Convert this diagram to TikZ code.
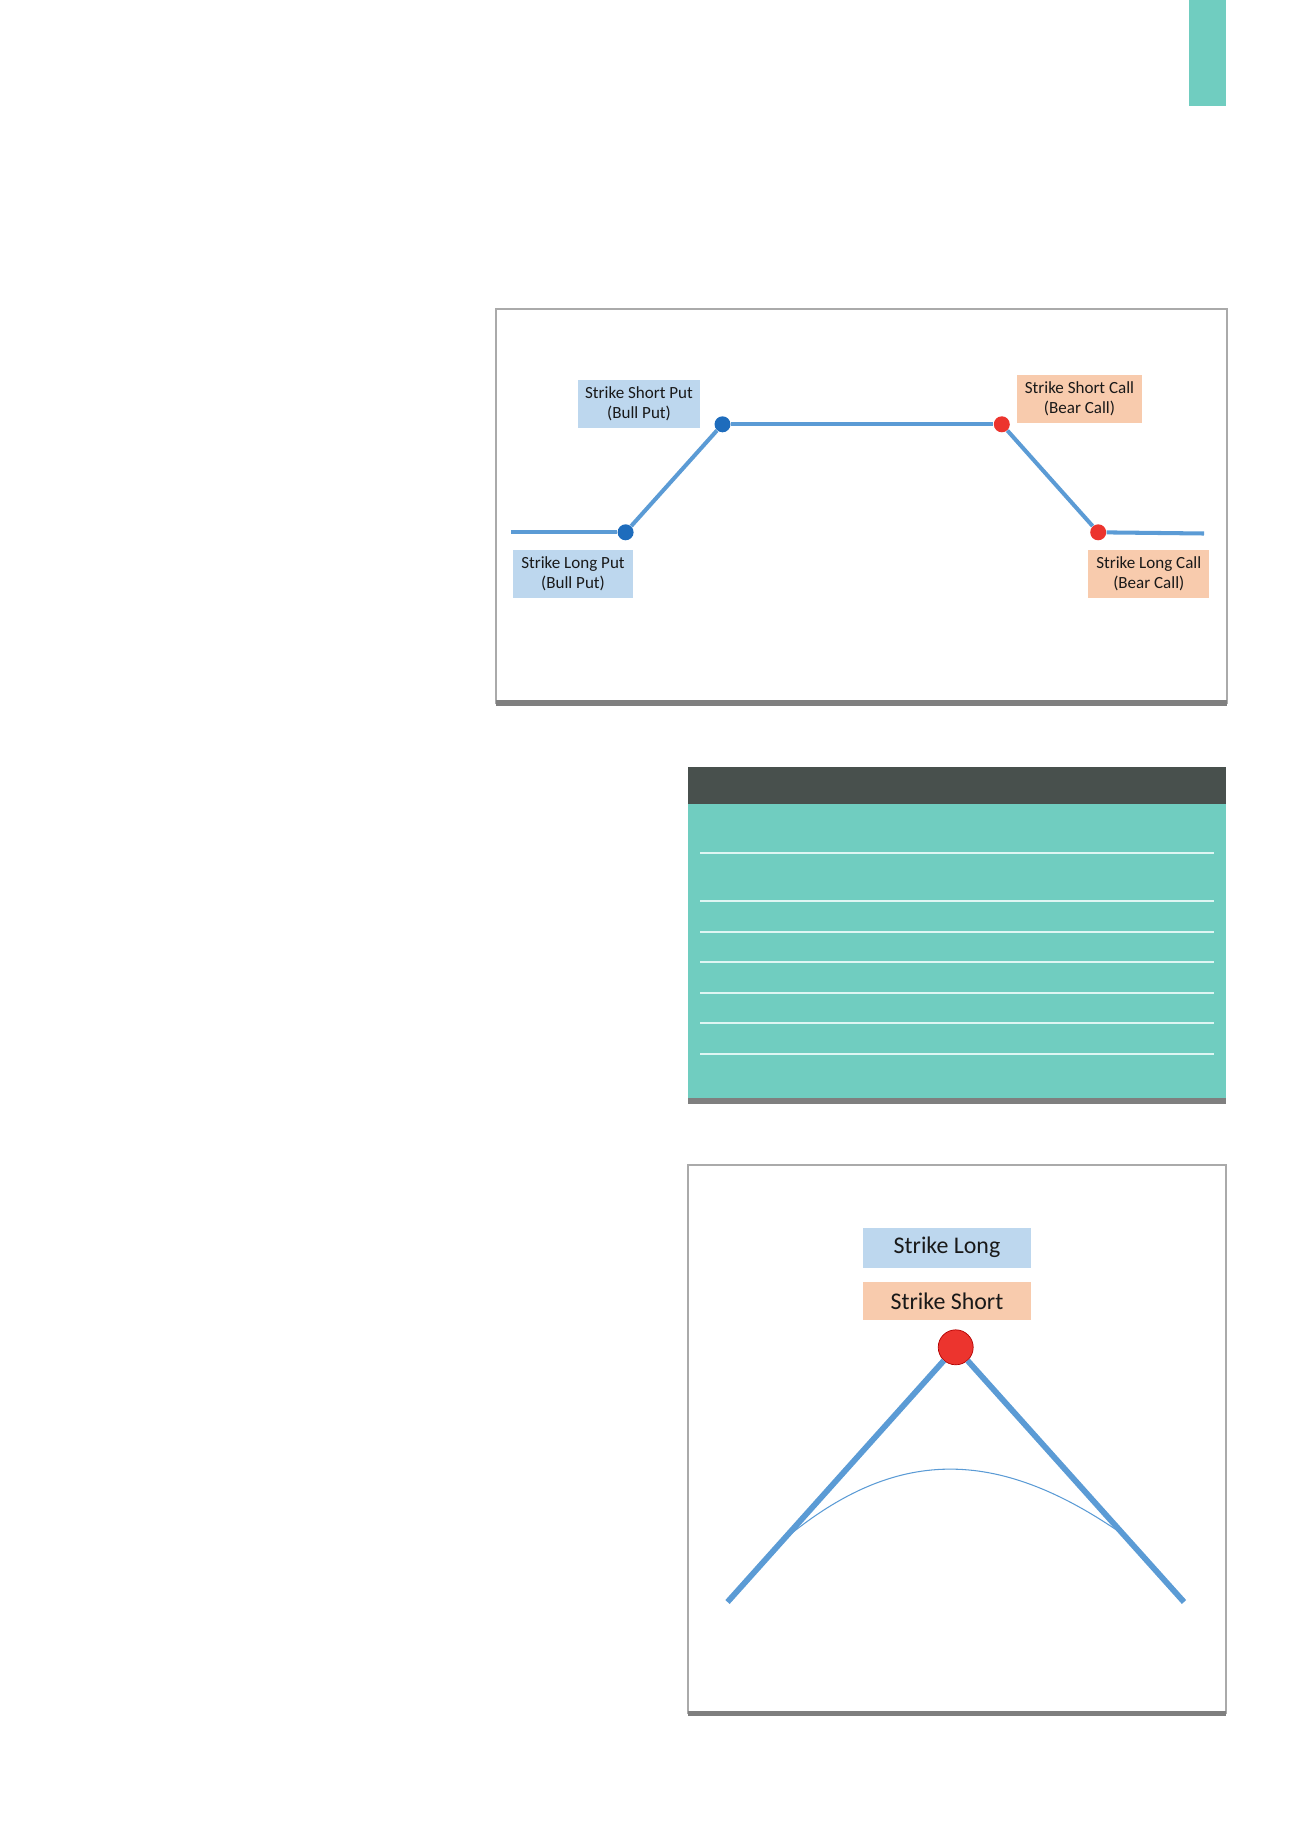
\documentclass[tikz,border=0pt]{standalone}
\usepackage{fontspec}
\setmainfont{Carlito}
\usetikzlibrary{positioning}

\definecolor{payblue}{RGB}{91,155,213}
\definecolor{putdotc}{RGB}{30,108,188}
\definecolor{calldotc}{RGB}{236,52,46}
\definecolor{putfill}{RGB}{189,215,238}
\definecolor{callfill}{RGB}{248,203,173}
\definecolor{tealc}{RGB}{112,205,192}
\definecolor{headc}{RGB}{72,80,77}
\definecolor{barc}{RGB}{127,127,127}
\definecolor{framec}{RGB}{170,170,170}
\definecolor{rulec}{RGB}{222,246,243}

\begin{document}
\begin{tikzpicture}[
	x=0.02cm, y=-0.02cm,
	payoff/.style  = {line width=2.3pt, payblue},
	putbox/.style  = {rectangle, fill=putfill, inner sep=0pt, minimum height=0.96cm, align=center, text=black!90,
		font=\fontsize{9.7}{11.4}\selectfont},
	callbox/.style = {putbox, fill=callfill},
	bigtxt/.style  = {font=\fontsize{13.6}{16}\selectfont, minimum width=3.36cm},
	putdot/.style  = {circle, fill=putdotc, inner sep=0pt, minimum size=0.32cm},
	calldot/.style = {putdot, fill=calldotc},
	frame/.style   = {draw=framec, line width=0.6pt},
	bar/.style     = {fill=barc}
	]
	
	\useasboundingbox (0,0) rectangle (1300,1839);
	
	% page tab
	\fill[tealc] (1189,0) rectangle (1226,106);
	
	%% ── Spread payoff panel ──────────────────────────────────────
	\draw[frame] (496,309) rectangle (1227,703);
	\fill[bar] (496,700) rectangle (1227,706);
	
	\node [putdot]  (lp) at (625.6,532.3) {};
	\node [putdot]  (sp) at (722.5,424.3) {};
	\node [calldot] (sc) at (1001.8,424.3) {};
	\node [calldot] (lc) at (1098.2,532.3) {};
	\coordinate (lpstart) at (511,532.3);
	\coordinate (lcend)   at (1204,533.5);
	
	\draw [payoff] (lpstart) -- (lp);
	\draw [payoff] (lp) -- (sp);
	\draw [payoff] (sp) -- (sc);
	\draw [payoff] (sc) -- (lc);
	\draw [payoff] (lc) -- (lcend);
	
	\node [putbox, minimum width=2.46cm]  (sptxt) at (639,403.7)    {Strike Short Put\\(Bull Put)};
	\node [callbox, minimum width=2.5cm]  (sctxt) at (1079.5,398.5) {Strike Short Call\\(Bear Call)};
	\node [putbox, minimum width=2.4cm]   (lptxt) at (573,573.8)    {Strike Long Put\\(Bull Put)};
	\node [callbox, minimum width=2.42cm] (lctxt) at (1148.8,573.8) {Strike Long Call\\(Bear Call)};
	
	%% ── Table panel ──────────────────────────────────────────────
	\fill[tealc] (688,767) rectangle (1226,1098);
	\fill[headc] (688,767) rectangle (1226,804);
	\fill[bar] (688,1098) rectangle (1226,1104);
	\foreach \yy in {853,901,932,962,993,1023,1054}
		\draw[rulec, line width=0.8pt] (700,\yy) -- (1214,\yy);
	
	%% ── Straddle panel ───────────────────────────────────────────
	\draw[frame] (688,1165) rectangle (1226,1713);
	\fill[bar] (688,1711) rectangle (1226,1716);
	
	\node [putbox, bigtxt, minimum height=0.8cm] (slong) at (947,1247.5) {Strike Long};
	\node [callbox, bigtxt, minimum height=0.76cm, below=0.28cm of slong] (sshort) {Strike Short};
	\node [calldot, draw=red!70!black, line width=0.4pt, minimum size=0.7cm] (apex) at (955.7,1347.3) {};
	
	\coordinate (wl) at (727.5,1602);
	\coordinate (wr) at (1184,1602);
	\draw [payoff, line width=3.3pt] (wl) -- (apex);
	\draw [payoff, line width=3.3pt] (apex) -- (wr);
	
	% time value curve
	\coordinate (cl) at (792,1533);
	\coordinate (cr) at (1128,1538);
	\draw [payblue, line width=0.6pt] (cl) .. controls (900,1447) and (1000,1447) .. (cr);
	
\end{tikzpicture}
\end{document}
